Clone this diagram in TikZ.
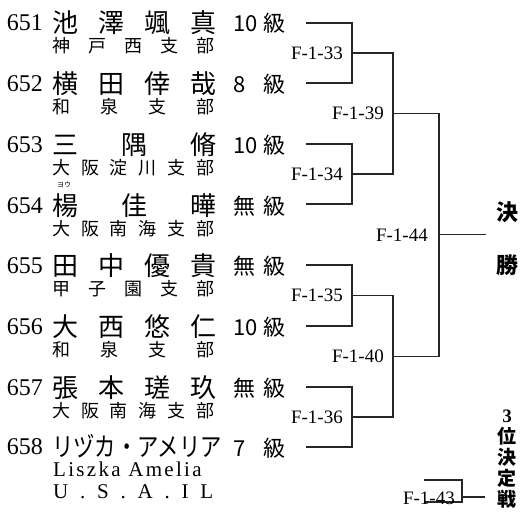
\documentclass[tikz,border=0pt]{standalone}
\usepackage{fontspec}
\usepackage{graphicx}
\setmainfont{Liberation Serif}
\newfontfamily\jpfont{Noto Sans CJK JP}
\usetikzlibrary{positioning, calc}

\begin{document}
\begin{tikzpicture}[x=1pt, y=-1pt,
    entryno/.style={anchor=east, inner sep=0pt, font=\fontsize{24}{24}\selectfont},
    pname/.style={anchor=west, inner sep=0pt, font=\jpfont\fontsize{26}{26}\selectfont},
    club/.style={anchor=west, inner sep=0pt, font=\jpfont\fontsize{18}{18}\selectfont},
    grade/.style={anchor=west, inner sep=0pt, font=\jpfont\fontsize{22}{22}\selectfont},
    matchno/.style={anchor=east, inner sep=0pt, font=\fontsize{19}{19}\selectfont},
    bout/.style={line width=1.2pt, draw=black!85},
    final/.style={inner sep=0pt, font=\jpfont\bfseries\fontsize{22}{22}\selectfont},
]
\useasboundingbox (0,0) rectangle (524,513);

% Players 651-652
\node[entryno] (p651) at (43,23) {651};
\node[pname] (n651) at (52,23) {\makebox[164pt]{池\hfill 澤\hfill 颯\hfill 真}};
\node[club] (c651) at (52,46) {\makebox[162pt]{神\hfill 戸\hfill 西\hfill 支\hfill 部}};
\node[grade] (g651) at (233,23) {\makebox[52pt]{10\hfill 級}};

\node[entryno] (p652) at (43,84) {652};
\node[pname] (n652) at (52,84) {\makebox[164pt]{横\hfill 田\hfill 倖\hfill 哉}};
\node[club] (c652) at (52,107) {\makebox[162pt]{和\hfill 泉\hfill 支\hfill 部}};
\node[grade] (g652) at (233,84) {\makebox[52pt]{8\hfill 級}};

% Players 653-654
\node[entryno] (p653) at (43,145) {653};
\node[pname] (n653) at (52,145) {\makebox[164pt]{三\hfill 隅\hfill 脩}};
\node[club] (c653) at (52,168) {\makebox[162pt]{大\hfill 阪\hfill 淀\hfill 川\hfill 支\hfill 部}};
\node[grade] (g653) at (233,145) {\makebox[52pt]{10\hfill 級}};

\node[entryno] (p654) at (43,206) {654};
\node[pname] (n654) at (52,206) {\makebox[164pt]{楊\hfill 佳\hfill 曄}};
\node[inner sep=0pt, font=\jpfont\fontsize{7}{7}\selectfont] (r654) at (64,185) {ヨウ};
\node[club] (c654) at (52,229) {\makebox[162pt]{大\hfill 阪\hfill 南\hfill 海\hfill 支\hfill 部}};
\node[grade] (g654) at (233,206) {\makebox[52pt]{無\hfill 級}};

% Players 655-656
\node[entryno] (p655) at (43,266) {655};
\node[pname] (n655) at (52,266) {\makebox[164pt]{田\hfill 中\hfill 優\hfill 貴}};
\node[club] (c655) at (52,289) {\makebox[162pt]{甲\hfill 子\hfill 園\hfill 支\hfill 部}};
\node[grade] (g655) at (233,266) {\makebox[52pt]{無\hfill 級}};

\node[entryno] (p656) at (43,327) {656};
\node[pname] (n656) at (52,327) {\makebox[164pt]{大\hfill 西\hfill 悠\hfill 仁}};
\node[club] (c656) at (52,350) {\makebox[162pt]{和\hfill 泉\hfill 支\hfill 部}};
\node[grade] (g656) at (233,327) {\makebox[52pt]{10\hfill 級}};

% Players 657-658
\node[entryno] (p657) at (43,388) {657};
\node[pname] (n657) at (52,388) {\makebox[164pt]{張\hfill 本\hfill 瑳\hfill 玖}};
\node[club] (c657) at (52,411) {\makebox[162pt]{大\hfill 阪\hfill 南\hfill 海\hfill 支\hfill 部}};
\node[grade] (g657) at (233,388) {\makebox[52pt]{無\hfill 級}};

\node[entryno] (p658) at (43,447) {658};
\node[pname] (n658) at (52,446) {\scalebox{0.82}[1]{リヅカ・アメリア}};
\node[anchor=west, inner sep=0pt, font=\fontsize{21}{21}\selectfont\addfontfeature{LetterSpace=11}] (l658) at (53,469) {Liszka Amelia};
\node[anchor=west, inner sep=0pt, font=\fontsize{21}{21}\selectfont] (u658) at (53,492) {\makebox[160pt]{U\hfill .\hfill S\hfill .\hfill A\hfill .\hfill I\hfill L}};
\node[grade] (g658) at (233,448) {\makebox[52pt]{7\hfill 級}};

% Entry points
\coordinate (e1) at (306,23);
\coordinate (e2) at (306,83);
\coordinate (e3) at (306,144);
\coordinate (e4) at (306,204);
\coordinate (e5) at (306,265);
\coordinate (e6) at (306,326);
\coordinate (e7) at (306,387);
\coordinate (e8) at (306,447);

% First round
\coordinate (m33) at ($(e1)!.5!(e2) + (46,0)$);
\coordinate (m34) at ($(e3)!.5!(e4) + (46,0)$);
\coordinate (m35) at ($(e5)!.5!(e6) + (46,0)$);
\coordinate (m36) at ($(e7)!.5!(e8) + (46,0)$);
\draw[bout] (e1) -| (m33) |- (e2);
\draw[bout] (e3) -| (m34) |- (e4);
\draw[bout] (e5) -| (m35) |- (e6);
\draw[bout] (e7) -| (m36) |- (e8);
\node[matchno] (l33) at ([xshift=-9pt]m33) {F-1-33};
\node[matchno] (l34) at ([xshift=-9pt]m34) {F-1-34};
\node[matchno] (l35) at ([xshift=-9pt]m35) {F-1-35};
\node[matchno] (l36) at ([xshift=-9pt]m36) {F-1-36};

% Semi finals
\coordinate (m39) at ($(m33)!.5!(m34) + (41,0)$);
\coordinate (m40) at ($(m35)!.5!(m36) + (41,0)$);
\draw[bout] (m33) -| (m39) |- (m34);
\draw[bout] (m35) -| (m40) |- (m36);
\node[matchno] (l39) at ([xshift=-9pt]m39) {F-1-39};
\node[matchno] (l40) at ([xshift=-9pt]m40) {F-1-40};

% Final
\coordinate (m44) at ($(m39)!.5!(m40) + (46,0)$);
\coordinate (w44) at ($(m44) + (47,0)$);
\draw[bout] (m39) -| (m44) |- (m40);
\draw[bout] (m44) -- (w44);
\node[matchno] (l44) at ([xshift=-11pt]m44) {F-1-44};
\node[final] (ke) at (507,212) {決};
\node[final] (sho) at (507,265) {勝};

% Third place
\coordinate (t1) at (424,480);
\coordinate (t2) at (424,502);
\coordinate (m43) at (462,497);
\coordinate (w43) at (485,497);
\draw[bout] (t1) -| (m43) |- (t2);
\draw[bout] (m43) -- (w43);
\node[matchno] (l43) at (455,498) {F-1-43};
\node[final, align=center, font=\jpfont\bfseries\fontsize{19}{21}\selectfont] (third) at (507,459) {{\rmfamily 3}\\位\\決\\定\\戦};

\end{tikzpicture}
\end{document}
